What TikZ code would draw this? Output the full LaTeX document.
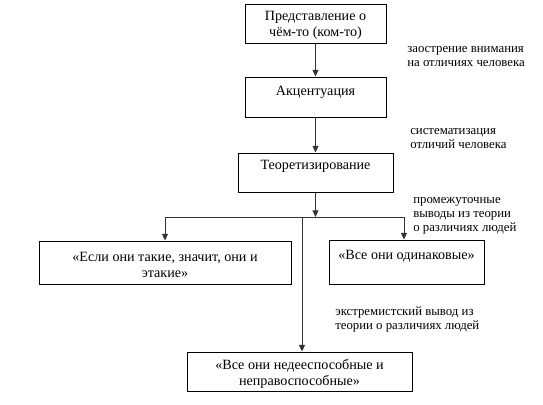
\documentclass[tikz,border=0pt]{standalone}
\usepackage{fontspec}
\setmainfont{Liberation Serif}
\usetikzlibrary{positioning,arrows.meta}
\newcommand{\btext}[4][12pt]{\parbox[c][#3][t]{#2}{\centering\rule{0pt}{#1}#4}}

\begin{document}
\begin{tikzpicture}[x=0.75pt,y=-0.75pt,
  every node/.style={font=\fontsize{10.6}{12}\selectfont},
  stage/.style={draw,line width=0.75pt,inner sep=0pt},
  note/.style={anchor=north west,align=left,inner sep=0pt,font=\fontsize{9.6}{10.5}\selectfont},
  arrow/.style={-{Triangle[width=4.5pt,length=5pt]},line width=0.75pt,draw=black!80}
]
  \useasboundingbox (0,0) rectangle (543,404);
  % stages
  \node[stage] (s1) at (315.5,23.5) {\btext{105.75pt}{29.25pt}{Представление о\\чём-то (ком-то)}};
  \node[stage] (s2) at (315.5,97) {\btext[13.5pt]{105.75pt}{30pt}{Акцентуация}};
  \node[stage] (s3) at (315.5,172.5) {\btext{116.25pt}{29.25pt}{Теоретизирование}};
  \node[stage] (s4) at (165,262.5) {\btext[15pt]{189pt}{32.25pt}{«Если они такие, значит, они и\\этакие»}};
  \node[stage] (s5) at (406.5,262) {\btext[14.25pt]{116.25pt}{33pt}{«Все они одинаковые»}};
  \node[stage] (s6) at (299.5,371.5) {\btext[12.75pt]{168.75pt}{29.25pt}{«Все они недееспособные и\\неправоспособные»}};
  % branching
  \coordinate (left) at (165,217);
  \coordinate (right) at (404,217);
  \coordinate (mid) at (302,217);
  \draw[arrow] (s1) -- (s2);
  \draw[arrow] (s2) -- (s3);
  \draw[arrow] (s3) -- (s3 |- left);
  \draw[line width=0.75pt,draw=black!80] (left) -- (right);
  \draw[arrow] (left) -- (s4);
  \draw[arrow] (right) -- (right |- s5.north);
  \draw[arrow] (mid) -- (mid |- s6.north);
  % notes
  \node[note] (n1) at (407,42.7) {\strut заострение внимания\\\strut на отличиях человека};
  \node[note] (n2) at (410,124.7) {\strut систематизация\\\strut отличий человека};
  \node[note] (n3) at (413,193.7) {\strut промежуточные\\\strut выводы из теории\\\strut о различиях людей};
  \node[note] (n4) at (335,305.7) {\strut экстремистский вывод из\\\strut теории о различиях людей};
\end{tikzpicture}
\end{document}
